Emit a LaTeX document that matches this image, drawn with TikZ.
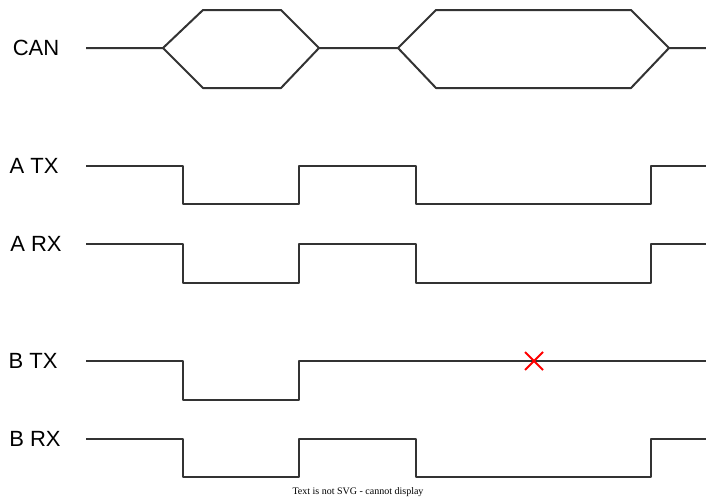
\documentclass[tikz,border=0pt]{standalone}
\usepackage{fontspec}
\setmainfont{Liberation Sans}
\newfontfamily\notefont{Liberation Serif}
\usetikzlibrary{positioning}

\begin{document}
\begin{tikzpicture}[x=1pt,y=-1pt,
  sig/.style={draw=black!80,line width=2pt,line join=round},
  lbl/.style={font=\fontsize{22}{26}\selectfont,inner sep=0pt},
  miss/.style={draw=red,line width=2pt}]
  \useasboundingbox (0,0) rectangle (706,498);
  % signal names
  \node[lbl] (can) at (36,48) {CAN};
  \node[lbl] (atx) at (34,166) {A TX};
  \node[lbl] (arx) at (36,244) {A RX};
  \node[lbl] (btx) at (33,361) {B TX};
  \node[lbl] (brx) at (35,439) {B RX};
  % bus frames
  \draw[sig] (86,48) -- (163,48) -- (203,10) -- (281,10) -- (319,48) -- (398,48) -- (436,10) -- (631,10) -- (669,48) -- (706,48);
  \draw[sig] (163,48) -- (203,88) -- (281,88) -- (319,48);
  \draw[sig] (398,48) -- (436,88) -- (631,88) -- (669,48);
  % node A and B receive
  \foreach \y/\d in {166/38,244/39,439/38}{
    \draw[sig] (86,\y) -| (183,\y+\d) -| (299,\y) -| (416,\y+\d) -| (651,\y) -- (706,\y);
  }
  % node B transmit
  \draw[sig] (86,361) -| (183,400) -| (299,361) -- (706,361);
  \draw[miss] (525,352) -- (543,370) (525,370) -- (543,352);
  \node[font=\notefont\fontsize{10}{12}\selectfont,inner sep=0pt] (note) at (358,492) {Text is not SVG - cannot display};
\end{tikzpicture}
\end{document}
